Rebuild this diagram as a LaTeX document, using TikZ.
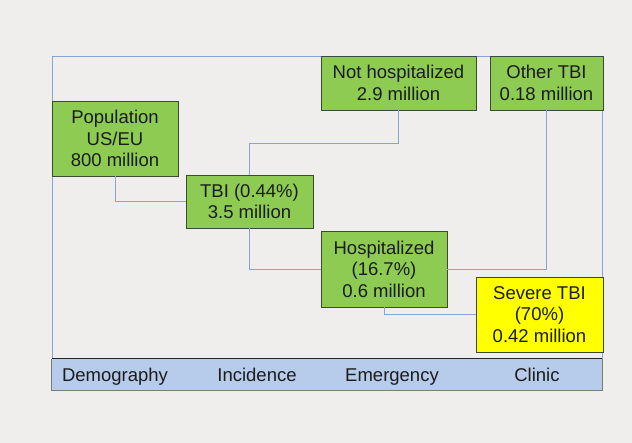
\documentclass[tikz,border=0pt]{standalone}
\usepackage{fontspec}
\setmainfont{Liberation Sans}
\definecolor{bg}{HTML}{EFEEEC}
\definecolor{boxgreen}{HTML}{8DCB52}
\definecolor{boxyellow}{HTML}{FFFF00}
\definecolor{edge}{HTML}{3B4A33}
\definecolor{link}{HTML}{88A4D4}
\definecolor{barblue}{HTML}{B7CBEA}
\definecolor{txt}{HTML}{1C1C1C}
\tikzset{
  box/.style={draw=edge, line width=0.9pt, fill=boxgreen, align=center, inner sep=0pt,
    text=txt, font=\fontsize{18.5}{21.5}\selectfont},
  ybox/.style={box, fill=boxyellow},
  linkline/.style={draw=link, line width=0.9pt},
  barlabel/.style={text=txt, font=\fontsize{18.5}{21.5}\selectfont, inner sep=0pt, anchor=base}
}
\begin{document}
\begin{tikzpicture}[x=1pt,y=-1pt]
\useasboundingbox (0,0) rectangle (632,443);
\fill[bg] (0,0) rectangle (632,443);
% frame
\coordinate (fbl) at (52,359);
\coordinate (ftl) at (52,56);
\coordinate (ftr) at (602,56);
\coordinate (fbr) at (602,359);
\draw[linkline] (fbl) -- (ftl) -- (ftr) -- (fbr);
% bar
\node[draw=none, fill=barblue, minimum width=550pt, minimum height=31pt, inner sep=0pt] (bar) at (327,374.5) {};
\draw[draw=edge!70, line width=0.8pt] (bar.north west) -- (bar.south west) -- (bar.south east) -- (bar.north east);
\draw[draw=black!85, line width=1pt] (bar.north west) -- (bar.north east);
\node[barlabel] (l1) at (115,382) {Demography};
\node[barlabel] (l2) at (257,382) {Incidence};
\node[barlabel] (l3) at (392,382) {Emergency};
\node[barlabel] (l4) at (537,382) {Clinic};
% boxes
\node[box, minimum width=126pt, minimum height=75pt] (pop) at (115,138.5) {Population\\US/EU\\800 million};
\node[box, minimum width=127pt, minimum height=53pt] (tbi) at (249.5,201.5) {TBI (0.44\%)\\3.5 million};
\node[box, minimum width=155pt, minimum height=54pt] (nh) at (398.5,83) {Not hospitalized\\2.9 million};
\node[box, minimum width=113pt, minimum height=54pt] (oth) at (546.5,83) {Other TBI\\0.18 million};
\node[box, minimum width=126pt, minimum height=76pt] (hosp) at (384,269) {Hospitalized\\(16.7\%)\\0.6 million};
\node[ybox, minimum width=127pt, minimum height=75pt] (sev) at (539.5,314.5) {Severe TBI\\(70\%)\\0.42 million};
% connectors
\coordinate (j1) at (0,143);
\draw[linkline] (pop.south) |- (tbi.west);
\draw[linkline] (tbi.north) -- (tbi.north |- j1) -| (nh.south);
\draw[linkline] (tbi.south) |- (hosp.west);
\draw[linkline] (hosp.east) -| (oth.south);
\draw[linkline] (hosp.south) |- (sev.west);
\end{tikzpicture}
\end{document}
